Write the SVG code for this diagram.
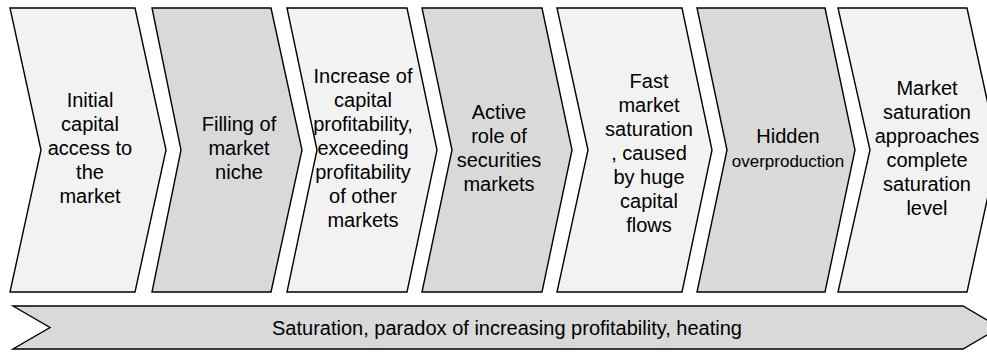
<svg xmlns="http://www.w3.org/2000/svg" width="987" height="352" viewBox="0 0 987 352">
<style>
.c{stroke:#000;stroke-width:1.4;stroke-linejoin:miter}
.l{fill:#f2f2f2}
.d{fill:#d9d9d9}
text{font-family:"Liberation Sans",Arial,sans-serif;font-size:20px;fill:#000;text-anchor:middle}
.s{font-size:17px}
</style>
<rect width="987" height="352" fill="#fff"/>
<g id="step1">
<polygon class="c l" points="10,8 135,8 166,150 135,292 10,292 41,150"/>
<text x="90"><tspan x="90" y="107">Initial</tspan><tspan x="90" y="131">capital</tspan><tspan x="90" y="155">access to</tspan><tspan x="90" y="179">the</tspan><tspan x="90" y="203">market</tspan></text>
</g>
<g id="step2">
<polygon class="c d" points="152,8 271,8 302,150 271,292 152,292 181,150"/>
<text><tspan x="239" y="131">Filling of</tspan><tspan x="239" y="155">market</tspan><tspan x="239" y="179">niche</tspan></text>
</g>
<g id="step3">
<polygon class="c l" points="287,8 407,8 437,150 407,292 287,292 317,150"/>
<text><tspan x="363" y="83">Increase of</tspan><tspan x="363" y="107">capital</tspan><tspan x="363" y="131">profitability,</tspan><tspan x="363" y="155">exceeding</tspan><tspan x="363" y="179">profitability</tspan><tspan x="363" y="203">of other</tspan><tspan x="363" y="227">markets</tspan></text>
</g>
<g id="step4">
<polygon class="c d" points="422,8 542,8 572,150 542,292 422,292 452,150"/>
<text><tspan x="499" y="119">Active</tspan><tspan x="499" y="143">role of</tspan><tspan x="499" y="167">securities</tspan><tspan x="499" y="191">markets</tspan></text>
</g>
<g id="step5">
<polygon class="c l" points="557,8 682,8 712,150 682,292 557,292 588,150"/>
<text><tspan x="649" y="88">Fast</tspan><tspan x="649" y="112">market</tspan><tspan x="649" y="136">saturation</tspan><tspan x="649" y="160">, caused</tspan><tspan x="649" y="184">by huge</tspan><tspan x="649" y="208">capital</tspan><tspan x="649" y="232">flows</tspan></text>
</g>
<g id="step6">
<polygon class="c d" points="697,8 825,8 855,150 825,292 697,292 727,150"/>
<text><tspan x="788" y="143">Hidden</tspan><tspan class="s" x="788" y="167">overproduction</tspan></text>
</g>
<g id="step7">
<polygon class="c l" points="838,8 967,8 998,150 967,292 838,292 870,150"/>
<text><tspan x="927" y="95">Market</tspan><tspan x="927" y="119">saturation</tspan><tspan x="927" y="143">approaches</tspan><tspan x="927" y="167">complete</tspan><tspan x="927" y="191">saturation</tspan><tspan x="927" y="215">level</tspan></text>
</g>
<g id="band">
<polygon class="c d" points="13,306 963,306 1000,327.5 963,349 13,349 50,327.5"/>
<text x="507" y="335">Saturation, paradox of increasing profitability, heating</text>
</g>
<g id="connectors"></g>
</svg>
